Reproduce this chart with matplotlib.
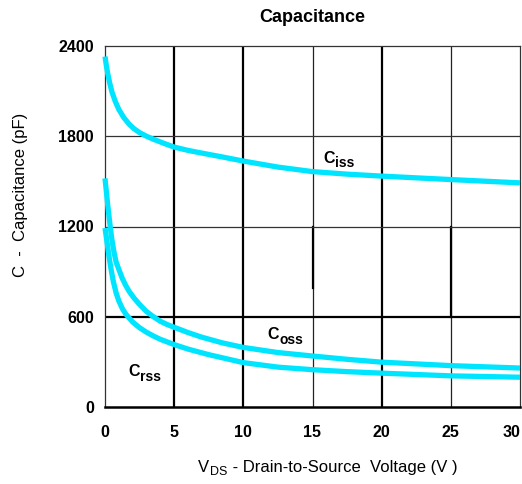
import matplotlib
matplotlib.use("Agg")
import matplotlib.pyplot as plt

plt.rcParams["font.family"] = ["Liberation Sans", "DejaVu Sans"]

# values (V, pF)
ciss_v = [0, 0.1, 0.2, 0.35, 0.5, 0.75, 1.0, 1.35, 1.75, 2.1, 2.5, 3, 3.5, 4.2,
          5, 6, 7, 8.5, 10, 12.5, 15, 17.5, 20, 25, 30]
ciss_c = [2330, 2268, 2215, 2150, 2095, 2030, 1978, 1925, 1880, 1850, 1824, 1800,
          1780, 1755, 1728, 1706, 1688, 1662, 1635, 1595, 1565, 1548, 1535, 1512, 1490]

coss_v = [0, 0.05, 0.1, 0.2, 0.3, 0.4, 0.5, 0.65, 0.8, 1.0, 1.25, 1.5, 1.75, 2.1,
          2.5, 3, 3.5, 4, 4.5, 5, 6, 7, 8.5, 10, 12.5, 15, 17.5, 20, 25, 30]
coss_c = [1520, 1475, 1430, 1340, 1260, 1182, 1112, 1030, 965, 915, 855, 808, 768, 724,
          682, 635, 600, 570, 548, 530, 495, 464, 426, 396, 362, 339, 317, 298, 275, 259]

crss_v = [0, 0.1, 0.2, 0.3, 0.45, 0.6, 0.8, 1.0, 1.25, 1.5, 2, 2.5, 3, 3.5, 4, 5,
          6, 7.5, 10, 12.5, 15, 17.5, 20, 25, 30]
crss_c = [1190, 1125, 1060, 995, 910, 835, 760, 705, 655, 618, 565, 527, 497, 472, 450, 415,
          385, 348, 295, 265, 248, 235, 225, 207, 198]

x_ticks = [0, 5, 10, 15, 20, 25, 30]
y_ticks = [0, 600, 1200, 1800, 2400]

CYAN = "#00e5ff"

fig = plt.figure(figsize=(5.22, 4.84), dpi=100)
ax = fig.add_axes([105 / 522, 1 - 407 / 484, 415 / 522, 361 / 484])
ax.set_xlim(0, 30)
ax.set_ylim(0, 2400)

# grid: some lines heavier than others, as on the scan
for x in [5, 10, 20]:
    ax.axvline(x, color="black", lw=1.6, zorder=1)
for x in [15, 25]:
    ax.axvline(x, color="#222222", lw=0.9, zorder=1)
ax.plot([15, 15], [790, 1200], color="black", lw=1.6, zorder=1)
ax.plot([25, 25], [600, 1200], color="black", lw=1.6, zorder=1)
ax.axhline(600, color="black", lw=1.6, zorder=1)
for y in [1200, 1800]:
    ax.axhline(y, color="#333333", lw=0.9, zorder=1)

for v, c in [(ciss_v, ciss_c), (coss_v, coss_c), (crss_v, crss_c)]:
    ax.plot(v, c, color=CYAN, lw=3.8, solid_joinstyle="round",
            solid_capstyle="butt", clip_on=False, zorder=3)

for side in ["top", "right", "left"]:
    ax.spines[side].set_linewidth(0.9)
    ax.spines[side].set_color("#333333")
ax.spines["bottom"].set_linewidth(1.8)
ax.spines["bottom"].set_color("black")

ax.set_xticks(x_ticks)
ax.set_yticks(y_ticks)
ax.tick_params(length=0, labelsize=11.5)
ax.tick_params(axis="y", pad=8)
ax.tick_params(axis="x", pad=13)
for lab in ax.get_xticklabels() + ax.get_yticklabels():
    lab.set_fontweight("bold")
ax.get_xticklabels()[-1].set_horizontalalignment("right")
ax.get_xticklabels()[-1].set_x(30.4)

# curve labels
def curve_label(x, y, sub):
    ax.text(x, y, "C", fontsize=11.5, fontweight="bold", ha="left",
            va="baseline", zorder=4)
    ax.annotate(sub, (x, y), xytext=(8.3, -3.5), textcoords="offset points",
                fontsize=10, fontweight="bold", ha="left", va="baseline",
                zorder=4)

curve_label(15.8, 1625, "iss")
curve_label(11.75, 450, "oss")
curve_label(1.7, 208, "rss")

fig.text(312 / 522, 1 - 18 / 484, "Capacitance", fontsize=13,
         fontweight="bold", ha="center", va="center")

# x label with subscript
fig.text(198 / 522, 1 - 472 / 484, "V", fontsize=12, ha="left", va="baseline")
fig.text(210 / 522, 1 - 475 / 484, "DS", fontsize=9, ha="left", va="baseline")
fig.text(228 / 522, 1 - 472 / 484, " - Drain-to-Source  Voltage (V )",
         fontsize=12, ha="left", va="baseline")

fig.text(21 / 522, 1 - 195 / 484, "C  -  Capacitance (pF)", fontsize=12,
         rotation=90, ha="center", va="center")

fig.savefig("out.png", dpi=100)
